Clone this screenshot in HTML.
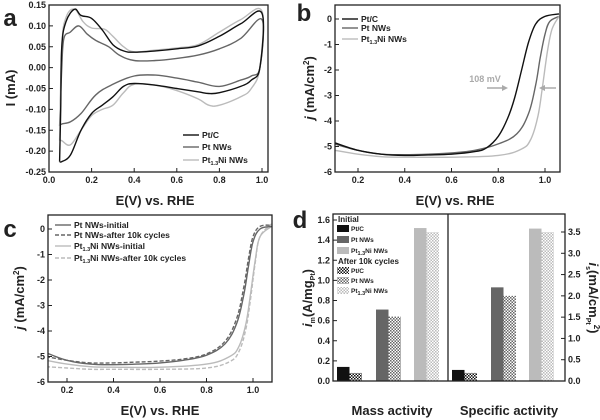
<!DOCTYPE html>
<html><head><meta charset="utf-8"><style>
html,body{margin:0;padding:0;background:#fff;width:600px;height:420px;overflow:hidden}
svg{display:block;font-family:"Liberation Sans",Arial,sans-serif;font-weight:bold}
</style></head><body>
<svg id="fig" width="600" height="420" viewBox="0 0 600 420"></svg>
<script>
// ---- Panel a data (CV) ----
const aPtCx=[0.05,0.055,0.06,0.08,0.12,0.15,0.2,0.25,0.3,0.35,0.4,0.5,0.6,0.7,0.8,0.9,1.0,0.99,0.95,0.9,0.8,0.75,0.7,0.6,0.5,0.4,0.35,0.3,0.25,0.2,0.15,0.1,0.06,0.05];
const aPtCy=[-0.225,-0.1,0.05,0.11,0.14,0.125,0.118,0.09,0.055,0.04,0.037,0.04,0.045,0.052,0.075,0.105,0.13,0.0,-0.03,-0.045,-0.06,-0.062,-0.058,-0.05,-0.042,-0.038,-0.045,-0.07,-0.09,-0.11,-0.15,-0.21,-0.225,-0.225];
const aPtNWx=[0.05,0.06,0.07,0.1,0.14,0.18,0.22,0.28,0.33,0.4,0.5,0.6,0.7,0.8,0.9,1.0,0.99,0.95,0.9,0.8,0.7,0.6,0.5,0.4,0.3,0.22,0.15,0.1,0.06,0.05];
const aPtNWy=[-0.14,0.0,0.07,0.085,0.1,0.08,0.065,0.05,0.03,0.017,0.017,0.022,0.03,0.045,0.07,0.115,0.0,-0.02,-0.03,-0.045,-0.035,-0.025,-0.018,-0.02,-0.04,-0.065,-0.11,-0.13,-0.135,-0.14];
const aNix=[0.05,0.06,0.08,0.12,0.16,0.2,0.26,0.3,0.35,0.4,0.5,0.6,0.7,0.8,0.9,1.0,0.99,0.95,0.9,0.8,0.75,0.7,0.6,0.5,0.4,0.35,0.3,0.25,0.2,0.15,0.1,0.06,0.05];
const aNiy=[-0.175,0.05,0.12,0.14,0.11,0.095,0.092,0.075,0.05,0.038,0.042,0.047,0.055,0.085,0.115,0.135,0.0,-0.05,-0.07,-0.09,-0.09,-0.075,-0.055,-0.042,-0.04,-0.06,-0.09,-0.1,-0.115,-0.15,-0.185,-0.175,-0.175];
const aXTicks=[0.0,0.2,0.4,0.6,0.8,1.0];
const aYTicks=[0.15,0.10,0.05,0.00,-0.05,-0.10,-0.15,-0.20,-0.25];
// ---- Panel b data (LSV) ----
const bPtCx=[0.1,0.2,0.3,0.4,0.5,0.6,0.7,0.75,0.8,0.84,0.87,0.9,0.93,0.96,1.0,1.06];
const bPtCy=[-4.85,-5.15,-5.3,-5.35,-5.33,-5.3,-5.2,-5.05,-4.6,-3.9,-3.1,-2.0,-0.9,-0.2,0.1,0.2];
const bPtNWx=[0.1,0.2,0.3,0.4,0.5,0.6,0.7,0.8,0.88,0.93,0.96,0.98,1.0,1.02,1.06];
const bPtNWy=[-4.9,-5.15,-5.3,-5.32,-5.3,-5.25,-5.15,-4.9,-4.5,-3.7,-2.6,-1.5,-0.6,-0.1,0.1];
const bNix=[0.1,0.2,0.3,0.4,0.6,0.8,0.9,0.94,0.97,0.99,1.01,1.03,1.06];
const bNiy=[-5.15,-5.3,-5.4,-5.42,-5.42,-5.35,-5.1,-4.7,-3.8,-2.6,-1.3,-0.4,0.1];
const bXTicks=[0.2,0.4,0.6,0.8,1.0];
const bYTicks=[0,-1,-2,-3,-4,-5,-6];
// ---- Panel c data ----
const cPtIx=[0.11,0.2,0.3,0.4,0.5,0.6,0.7,0.8,0.88,0.93,0.96,0.98,1.0,1.03,1.08];
const cPtIy=[-4.85,-5.15,-5.3,-5.32,-5.3,-5.25,-5.15,-4.95,-4.5,-3.7,-2.6,-1.5,-0.5,0.0,0.1];
const cPtAx=[0.11,0.2,0.3,0.4,0.5,0.6,0.7,0.8,0.88,0.93,0.96,0.98,1.0,1.03,1.08];
const cPtAy=[-5.0,-5.15,-5.25,-5.25,-5.22,-5.18,-5.1,-4.9,-4.4,-3.5,-2.3,-1.2,-0.3,0.1,0.15];
const cNiIx=[0.11,0.2,0.3,0.4,0.6,0.8,0.9,0.94,0.97,0.99,1.01,1.03,1.08];
const cNiIy=[-5.15,-5.3,-5.4,-5.42,-5.42,-5.3,-5.0,-4.6,-3.7,-2.5,-1.2,-0.3,0.1];
const cNiAx=[0.11,0.2,0.3,0.4,0.6,0.8,0.9,0.94,0.97,0.99,1.01,1.03,1.08];
const cNiAy=[-5.4,-5.45,-5.5,-5.5,-5.5,-5.45,-5.2,-4.8,-3.9,-2.7,-1.3,-0.3,0.2];
// ---- Panel d data ----
const dMassInit=[0.14,0.71,1.52];
const dMassAfter=[0.08,0.64,1.48];
const dSpecInit=[0.26,2.2,3.58];
const dSpecAfter=[0.19,2.0,3.5];
const dLeftTicks=[0.0,0.2,0.4,0.6,0.8,1.0,1.2,1.4,1.6];
const dRightTicks=[0.0,0.5,1.0,1.5,2.0,2.5,3.0,3.5];

const NS="http://www.w3.org/2000/svg";
const svg=document.getElementById('fig');
function el(tag,attrs,parent,text){const e=document.createElementNS(NS,tag);for(const k in attrs)e.setAttribute(k,attrs[k]);if(text!==undefined)e.textContent=text;(parent||svg).appendChild(e);return e;}
function lin(d0,d1,p0,p1){return v=>p0+(v-d0)*(p1-p0)/(d1-d0);}
const defs=el('defs',{});
function pat(id,fg){const p=el('pattern',{id:id,width:3,height:3,patternUnits:'userSpaceOnUse'},defs);el('rect',{width:3,height:3,fill:'#fff'},p);el('rect',{width:1.5,height:1.5,fill:fg},p);el('rect',{x:1.5,y:1.5,width:1.5,height:1.5,fill:fg},p);}
pat('hk','#111');pat('hd','#666');pat('hl','#bbb');
function clip(id,x,y,w,h){const c=el('clipPath',{id:id},defs);el('rect',{x:x,y:y,width:w,height:h},c);}

function series(xs,ys,sx,sy,color,dash,name,clipId){
  const P=xs.map((x,i)=>[sx(x),sy(ys[i])]);
  let d='M'+P[0][0].toFixed(1)+','+P[0][1].toFixed(1);
  const t=0.18;
  for(let i=0;i<P.length-1;i++){
    const p0=P[Math.max(i-1,0)],p1=P[i],p2=P[i+1],p3=P[Math.min(i+2,P.length-1)];
    const c1=[p1[0]+(p2[0]-p0[0])*t,p1[1]+(p2[1]-p0[1])*t];
    const c2=[p2[0]-(p3[0]-p1[0])*t,p2[1]-(p3[1]-p1[1])*t];
    d+='C'+c1[0].toFixed(1)+','+c1[1].toFixed(1)+' '+c2[0].toFixed(1)+','+c2[1].toFixed(1)+' '+p2[0].toFixed(1)+','+p2[1].toFixed(1);
  }
  const p=el('path',{d:d,fill:'none',stroke:color,'stroke-width':1.4,'stroke-dasharray':dash||'none','clip-path':'url(#'+clipId+')','stroke-linejoin':'round'});
  
  
}
function box(x0,y0,x1,y1,name){const r=el('rect',{x:x0,y:y0,width:x1-x0,height:y1-y0,fill:'none',stroke:'#222','stroke-width':1.3});
  
  }
function xticks(ticks,sx,yb,fmt,name){ticks.forEach(t=>{el('line',{x1:sx(t),x2:sx(t),y1:yb,y2:yb-4,stroke:'#222','stroke-width':1});
  const tx=el('text',{x:sx(t),y:yb+11,'font-size':9,'text-anchor':'middle',fill:'#222'},svg,t.toFixed(fmt));
  
  });}
function yticks(ticks,sy,xl,fmt,name,right){ticks.forEach(t=>{el('line',{x1:xl,x2:right?xl-4:xl+4,y1:sy(t),y2:sy(t),stroke:'#222','stroke-width':1});
  const tx=el('text',{x:right?xl+3:xl-3,y:sy(t)+3,'font-size':9,'text-anchor':right?'start':'end',fill:'#222'},svg,t.toFixed(fmt));
  
  });}
function label(x,y,txt,size,name,rot,anchor){const t=el('text',{x:x,y:y,'font-size':size,'text-anchor':anchor||'middle',fill:'#222',transform:rot?('rotate('+rot+' '+x+' '+y+')'):''},svg);t.innerHTML=txt;
  
  return t;}
function legLine(x,y,color,dash,txt,name){el('line',{x1:x,x2:x+16,y1:y,y2:y,stroke:color,'stroke-width':1.4,'stroke-dasharray':dash||'none'});
  const t=el('text',{x:x+19,y:y+3,'font-size':8.5,fill:'#222'},svg);t.innerHTML=txt;
  
  }
const BLK='#111',DG='#666',LG='#bbb';
const PTNI='Pt<tspan font-size="5.5" dy="2">1.3</tspan><tspan dy="-2">Ni NWs</tspan>';

// Panel a
{const sx=lin(0,1,49,262),sy=lin(0.15,-0.25,5,172);clip('ca',49,5,219,167);
 series(aPtNWx,aPtNWy,sx,sy,DG,null,'cv-pt-nws','ca');series(aNix,aNiy,sx,sy,LG,null,'cv-pt13ni-nws','ca');series(aPtCx,aPtCy,sx,sy,BLK,null,'cv-pt-c','ca');
 box(49,5,268,172,'panel-a-frame');xticks(aXTicks,sx,172,1,'a-x-tick');yticks(aYTicks,sy,49,2,'a-y-tick');
 label(155,205,'E(V) vs. RHE',13,'a-x-axis-title');label(15,88,'I (mA)',13,'a-y-axis-title',-90);label(10,26,'a',24,'panel-a-letter',0);
 legLine(183,135,BLK,null,'Pt/C','a-legend-pt-c');legLine(183,147,DG,null,'Pt NWs','a-legend-pt-nws');legLine(183,160,LG,null,PTNI,'a-legend-pt13ni');}
// Panel b
{const sx=lin(0.2,1.0,358,545),sy=lin(0,-6,19,172);clip('cb',335,5,225,167);
 series(bPtNWx,bPtNWy,sx,sy,DG,null,'lsv-pt-nws','cb');series(bNix,bNiy,sx,sy,LG,null,'lsv-pt13ni-nws','cb');series(bPtCx,bPtCy,sx,sy,BLK,null,'lsv-pt-c','cb');
 box(335,5,560,172,'panel-b-frame');xticks(bXTicks,sx,172,1,'b-x-tick');yticks(bYTicks,sy,335,0,'b-y-tick');
 label(455,205,'E(V) vs. RHE',13,'b-x-axis-title');label(314,88,'<tspan font-style="italic">j</tspan> (mA/cm<tspan font-size="8" dy="-5">2</tspan><tspan dy="5">)</tspan>',13,'b-y-axis-title',-90);
 label(304,21,'b',24,'panel-b-letter');
 legLine(342,19,BLK,null,'Pt/C','b-legend-pt-c');legLine(342,28,DG,null,'Pt NWs','b-legend-pt-nws');legLine(342,39,LG,null,PTNI,'b-legend-pt13ni');
 label(485,82,'108 mV',9,'annotation-108mv').setAttribute('fill','#aaa');
 el('line',{x1:487,x2:505,y1:88,y2:88,stroke:'#aaa','stroke-width':1.5});el('path',{d:'M508,88 L502,85 L502,91Z',fill:'#aaa'});
 el('line',{x1:556,x2:542,y1:88,y2:88,stroke:'#aaa','stroke-width':1.5});el('path',{d:'M539,88 L545,85 L545,91Z',fill:'#aaa'});}
// Panel c
{const sx=lin(0.2,1.0,67,253),sy=lin(0,-6,229,382);clip('cc',48,215,224,167);
 series(cNiAx,cNiAy,sx,sy,LG,'4,2','c-pt13ni-after','cc');series(cNiIx,cNiIy,sx,sy,LG,null,'c-pt13ni-initial','cc');
 series(cPtAx,cPtAy,sx,sy,DG,'4,2','c-pt-after','cc');series(cPtIx,cPtIy,sx,sy,DG,null,'c-pt-initial','cc');
 box(48,215,272,382,'panel-c-frame');xticks(bXTicks,sx,382,1,'c-x-tick');yticks(bYTicks,sy,48,0,'c-y-tick');
 label(160,415,'E(V) vs. RHE',13,'c-x-axis-title');label(24,298,'<tspan font-style="italic">j</tspan> (mA/cm<tspan font-size="8" dy="-5">2</tspan><tspan dy="5">)</tspan>',13,'c-y-axis-title',-90);
 label(10,237,'c',24,'panel-c-letter');
 legLine(55,225,DG,null,'Pt NWs-initial','c-legend-pt-initial');legLine(55,235,DG,'4,2','Pt NWs-after 10k cycles','c-legend-pt-after');
 legLine(55,246,LG,null,PTNI.replace('Ni NWs','Ni NWs-initial'),'c-legend-pt13ni-initial');legLine(55,258,LG,'4,2',PTNI.replace('Ni NWs','Ni NWs-after 10k cycles'),'c-legend-pt13ni-after');}
// Panel d
{const syL=lin(0,1.6,381,220),syR=lin(0,3.5,381,232);
 const fillsI=[BLK,DG,LG],fillsA=['url(#hk)','url(#hd)','url(#hl)'];
 const massX=[337,376,414],specX=[452,491,529],bw=12.5;
 dMassInit.forEach((v,i)=>{const r=el('rect',{x:massX[i],y:syL(v),width:bw,height:381-syL(v),fill:fillsI[i]});
   
   });
 dMassAfter.forEach((v,i)=>{const r=el('rect',{x:massX[i]+bw,y:syL(v),width:bw,height:381-syL(v),fill:fillsA[i]});
   
   });
 dSpecInit.forEach((v,i)=>{const r=el('rect',{x:specX[i],y:syR(v),width:bw,height:381-syR(v),fill:fillsI[i]});
   
   });
 dSpecAfter.forEach((v,i)=>{const r=el('rect',{x:specX[i]+bw,y:syR(v),width:bw,height:381-syR(v),fill:fillsA[i]});
   
   });
 box(333,214,565,381,'panel-d-frame');el('line',{x1:448,x2:448,y1:214,y2:381,stroke:'#222','stroke-width':1.3});
 yticks(dLeftTicks,syL,333,1,'d-left-tick');yticks(dRightTicks,syR,565,1,'d-right-tick',true);
 label(392,415,'Mass activity',13,'mass-activity-label');label(509,415,'Specific activity',13,'specific-activity-label');
 label(312,298,'<tspan font-style="italic">i</tspan><tspan font-size="7" dy="3">m</tspan><tspan dy="-3">(A/mg</tspan><tspan font-size="7" dy="3">Pt</tspan><tspan dy="-3">)</tspan>',13,'d-left-axis-title',-90);
 label(589,298,'<tspan font-style="italic">i</tspan><tspan font-size="7" dy="3">s</tspan><tspan dy="-3">(mA/cm</tspan><tspan font-size="7" dy="3">Pt</tspan><tspan font-size="8" dy="-8">2</tspan><tspan dy="5">)</tspan>',13,'d-right-axis-title',90);
 label(300,228,'d',24,'panel-d-letter');
 label(338,222,'Initial',8,'d-legend-initial-title',0,'start');
 const legT=['Pt/C','Pt NWs',PTNI];
 legT.forEach((t,i)=>{const r=el('rect',{x:337,y:225+i*11,width:12,height:7,fill:fillsI[i]});
   
   
   label(351,231+i*11,t,6.5,'d-legend-initial-entry',0,'start');});
 label(338,264,'After 10k cycles',8,'d-legend-after-title',0,'start');
 legT.forEach((t,i)=>{const r=el('rect',{x:337,y:267+i*10,width:12,height:7,fill:fillsA[i]});
   
   
   label(351,273+i*10,t,6.5,'d-legend-after-entry',0,'start');});}
</script>
</body></html>
